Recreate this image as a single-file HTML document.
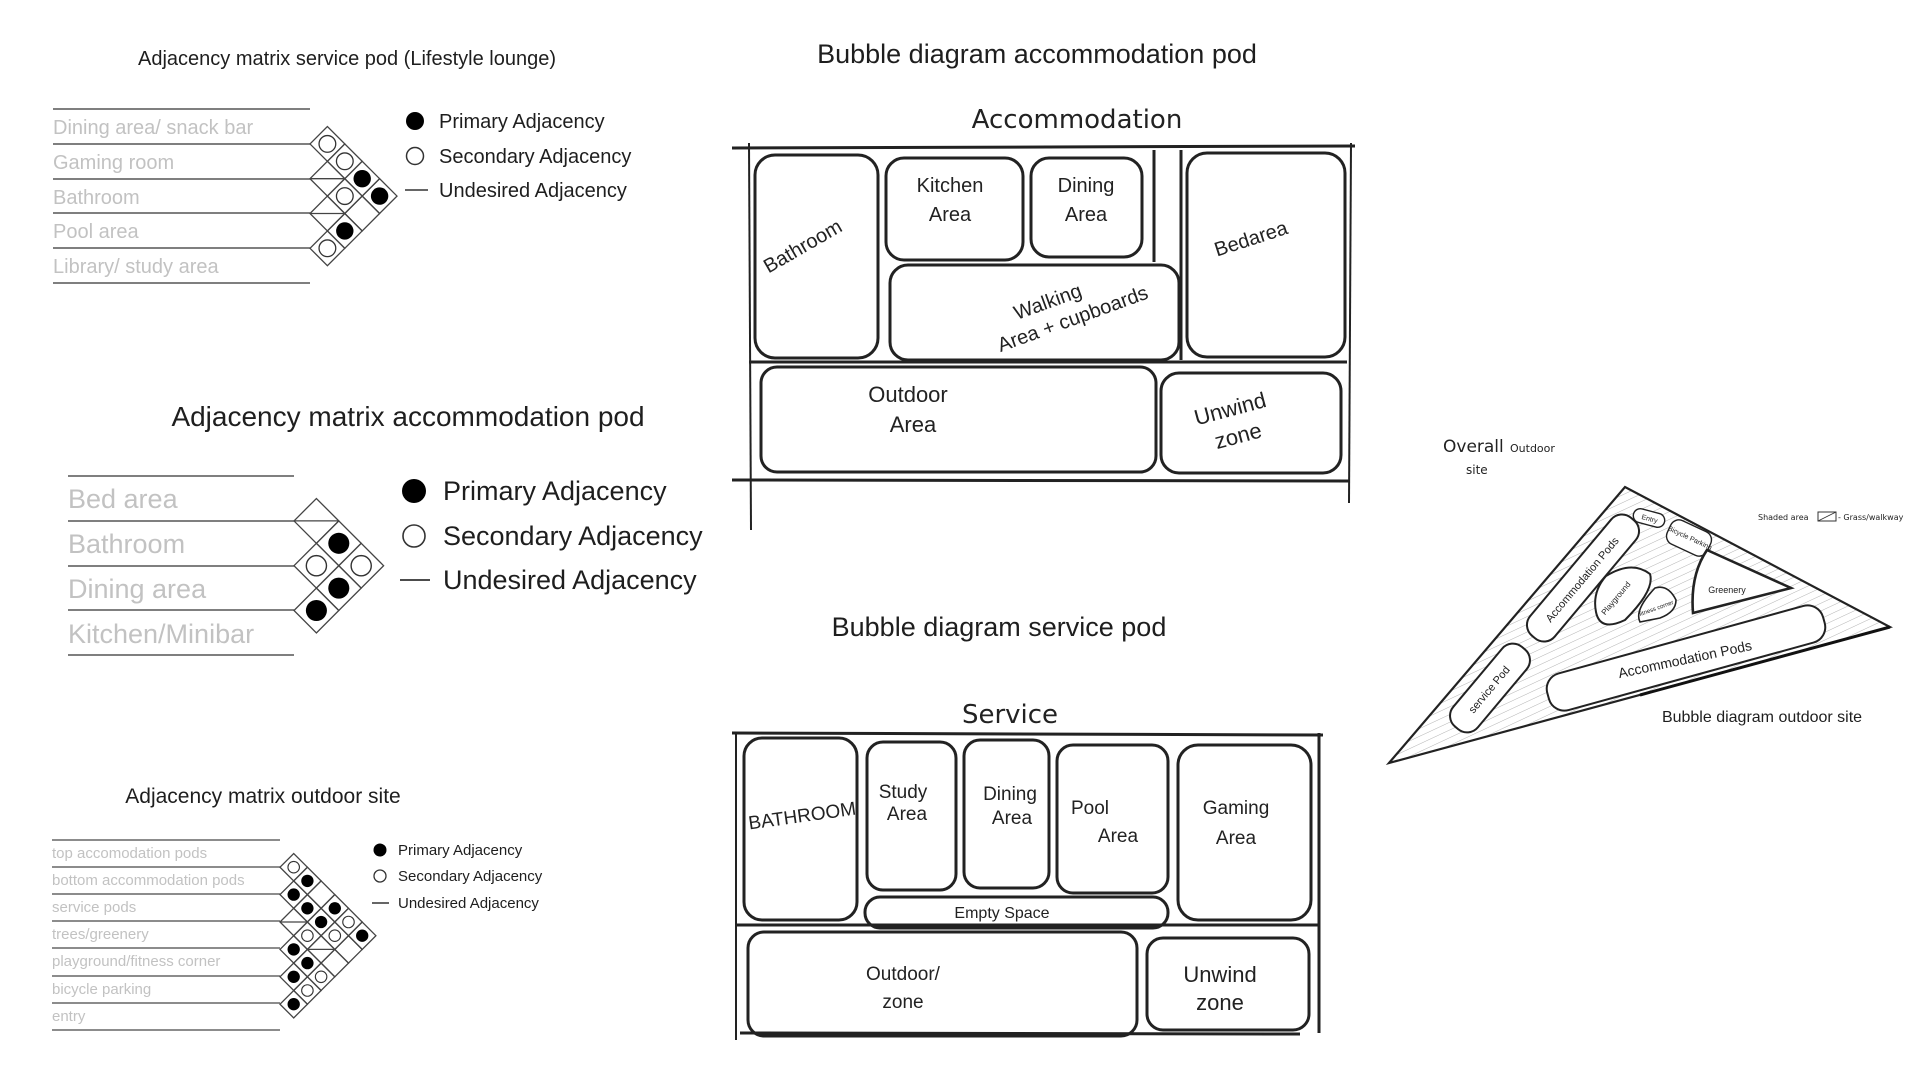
<!DOCTYPE html>
<html><head><meta charset="utf-8"><style>
html,body{margin:0;padding:0;background:#fff;}
svg{display:block;}
text{font-family:"Liberation Sans","DejaVu Sans",sans-serif;}
.lbl{fill:#c2c2c2;}
.t{fill:#1e1e1e;}
.hw{fill:#222;font-family:"DejaVu Sans","Liberation Sans",sans-serif;}
.sk{fill:none;stroke:#222;stroke-width:3;stroke-linejoin:round;}
</style></head><body>
<svg width="1920" height="1080" viewBox="0 0 1920 1080" xmlns="http://www.w3.org/2000/svg">
<defs>
<path id="dm" d="M-1 0L0-1L1 0L0 1Z" fill="none" stroke="#444" stroke-width="1.3" vector-effect="non-scaling-stroke"/>
<pattern id="hatch" width="7" height="7" patternUnits="userSpaceOnUse" patternTransform="rotate(-25)">
<line x1="0" y1="0" x2="7" y2="0" stroke="#aaa" stroke-width="0.9"/>
</pattern>
<clipPath id="tri"><path d="M1389 763 L1625 487 L1890 627 Z"/></clipPath>
</defs>

<!-- Matrix 1 -->
<text class="t" x="347" y="65" font-size="20" text-anchor="middle">Adjacency matrix service pod (Lifestyle lounge)</text>
<g stroke="#555" stroke-width="1.6">
<line x1="53" y1="109" x2="310" y2="109"/><line x1="53" y1="144" x2="310" y2="144"/><line x1="53" y1="179" x2="310" y2="179"/><line x1="53" y1="213" x2="310" y2="213"/><line x1="53" y1="248" x2="310" y2="248"/><line x1="53" y1="283" x2="310" y2="283"/>
</g>
<g class="lbl" font-size="20">
<text x="53" y="134">Dining area/ snack bar</text><text x="53" y="169">Gaming room</text><text x="53" y="204">Bathroom</text><text x="53" y="238">Pool area</text><text x="53" y="273">Library/ study area</text>
</g>
<g transform="translate(310,126.5) scale(17.4)">
<use href="#dm" x="1" y="1"/><use href="#dm" x="1" y="3"/><use href="#dm" x="1" y="5"/><use href="#dm" x="1" y="7"/>
<use href="#dm" x="2" y="2"/><use href="#dm" x="2" y="4"/><use href="#dm" x="2" y="6"/>
<use href="#dm" x="3" y="3"/><use href="#dm" x="3" y="5"/><use href="#dm" x="4" y="4"/>
<g stroke="#444" stroke-width="1.3"><line x1="0" y1="3" x2="2" y2="3" vector-effect="non-scaling-stroke"/><line x1="0" y1="5" x2="2" y2="5" vector-effect="non-scaling-stroke"/></g>
<g fill="#000"><circle cx="3" cy="3" r="0.5"/><circle cx="4" cy="4" r="0.5"/><circle cx="2" cy="6" r="0.5"/></g>
<g fill="#fff" stroke="#333" stroke-width="1.3"><circle cx="1" cy="1" r="0.48" vector-effect="non-scaling-stroke"/><circle cx="2" cy="2" r="0.48" vector-effect="non-scaling-stroke"/><circle cx="2" cy="4" r="0.48" vector-effect="non-scaling-stroke"/><circle cx="1" cy="7" r="0.48" vector-effect="non-scaling-stroke"/></g>
</g>
<circle cx="415" cy="121" r="9" fill="#000"/>
<circle cx="415" cy="156" r="8.5" fill="#fff" stroke="#333" stroke-width="1.5"/>
<line x1="405" y1="190" x2="428" y2="190" stroke="#333" stroke-width="1.6"/>
<g class="t" font-size="20"><text x="439" y="128">Primary Adjacency</text><text x="439" y="163">Secondary Adjacency</text><text x="439" y="197">Undesired Adjacency</text></g>

<!-- Matrix 2 -->
<text class="t" x="408" y="426" font-size="28" text-anchor="middle">Adjacency matrix accommodation pod</text>
<g stroke="#555" stroke-width="1.6">
<line x1="68" y1="476" x2="294" y2="476"/><line x1="68" y1="521" x2="294" y2="521"/><line x1="68" y1="566" x2="294" y2="566"/><line x1="68" y1="610" x2="294" y2="610"/><line x1="68" y1="655" x2="294" y2="655"/>
</g>
<g class="lbl" font-size="27">
<text x="68" y="508">Bed area</text><text x="68" y="553">Bathroom</text><text x="68" y="598">Dining area</text><text x="68" y="643">Kitchen/Minibar</text>
</g>
<g transform="translate(294,498.5) scale(22.4)">
<use href="#dm" x="1" y="1"/><use href="#dm" x="1" y="3"/><use href="#dm" x="1" y="5"/>
<use href="#dm" x="2" y="2"/><use href="#dm" x="2" y="4"/><use href="#dm" x="3" y="3"/>
<line x1="0" y1="1" x2="2" y2="1" stroke="#444" stroke-width="1.3" vector-effect="non-scaling-stroke"/>
<g fill="#000"><circle cx="2" cy="2" r="0.47"/><circle cx="2" cy="4" r="0.47"/><circle cx="1" cy="5" r="0.47"/></g>
<g fill="#fff" stroke="#333"><circle cx="1" cy="3" r="0.45" stroke-width="1.4" vector-effect="non-scaling-stroke"/><circle cx="3" cy="3" r="0.45" stroke-width="1.4" vector-effect="non-scaling-stroke"/></g>
</g>
<circle cx="414" cy="491" r="12" fill="#000"/>
<circle cx="414" cy="536" r="11" fill="#fff" stroke="#333" stroke-width="1.6"/>
<line x1="400" y1="580" x2="430" y2="580" stroke="#333" stroke-width="1.8"/>
<g class="t" font-size="27"><text x="443" y="500">Primary Adjacency</text><text x="443" y="545">Secondary Adjacency</text><text x="443" y="589">Undesired Adjacency</text></g>

<!-- Matrix 3 -->
<text class="t" x="263" y="803" font-size="21" text-anchor="middle">Adjacency matrix outdoor site</text>
<g stroke="#666" stroke-width="1.4">
<line x1="52" y1="840" x2="280" y2="840"/><line x1="52" y1="867" x2="280" y2="867"/><line x1="52" y1="894" x2="280" y2="894"/><line x1="52" y1="921" x2="280" y2="921"/><line x1="52" y1="948" x2="280" y2="948"/><line x1="52" y1="976" x2="280" y2="976"/><line x1="52" y1="1003" x2="280" y2="1003"/><line x1="52" y1="1030" x2="280" y2="1030"/>
</g>
<g class="lbl" font-size="15">
<text x="52" y="858">top accomodation pods</text><text x="52" y="885">bottom accommodation pods</text><text x="52" y="912">service pods</text><text x="52" y="939">trees/greenery</text><text x="52" y="966">playground/fitness corner</text><text x="52" y="994">bicycle parking</text><text x="52" y="1021">entry</text>
</g>
<g transform="translate(280,853.5) scale(13.7)">
<use href="#dm" x="1" y="1"/><use href="#dm" x="1" y="3"/><use href="#dm" x="1" y="5"/><use href="#dm" x="1" y="7"/><use href="#dm" x="1" y="9"/><use href="#dm" x="1" y="11"/>
<use href="#dm" x="2" y="2"/><use href="#dm" x="2" y="4"/><use href="#dm" x="2" y="6"/><use href="#dm" x="2" y="8"/><use href="#dm" x="2" y="10"/>
<use href="#dm" x="3" y="3"/><use href="#dm" x="3" y="5"/><use href="#dm" x="3" y="7"/><use href="#dm" x="3" y="9"/>
<use href="#dm" x="4" y="4"/><use href="#dm" x="4" y="6"/><use href="#dm" x="4" y="8"/>
<use href="#dm" x="5" y="5"/><use href="#dm" x="5" y="7"/><use href="#dm" x="6" y="6"/>
<g stroke="#444" stroke-width="1.2"><line x1="0" y1="5" x2="2" y2="5" vector-effect="non-scaling-stroke"/><line x1="2" y1="7" x2="4" y2="7" vector-effect="non-scaling-stroke"/></g>
<g fill="#000"><circle cx="2" cy="2" r="0.45"/><circle cx="1" cy="3" r="0.45"/><circle cx="2" cy="4" r="0.45"/><circle cx="4" cy="4" r="0.45"/><circle cx="3" cy="5" r="0.45"/><circle cx="6" cy="6" r="0.45"/><circle cx="1" cy="7" r="0.45"/><circle cx="2" cy="8" r="0.45"/><circle cx="1" cy="9" r="0.45"/><circle cx="1" cy="11" r="0.45"/></g>
<g fill="#fff" stroke="#333"><circle cx="1" cy="1" r="0.42" stroke-width="1.1" vector-effect="non-scaling-stroke"/><circle cx="5" cy="5" r="0.42" stroke-width="1.1" vector-effect="non-scaling-stroke"/><circle cx="2" cy="6" r="0.42" stroke-width="1.1" vector-effect="non-scaling-stroke"/><circle cx="4" cy="6" r="0.42" stroke-width="1.1" vector-effect="non-scaling-stroke"/><circle cx="3" cy="9" r="0.42" stroke-width="1.1" vector-effect="non-scaling-stroke"/><circle cx="2" cy="10" r="0.42" stroke-width="1.1" vector-effect="non-scaling-stroke"/></g>
</g>
<circle cx="380" cy="850" r="6.5" fill="#000"/>
<circle cx="380" cy="876" r="6" fill="#fff" stroke="#333" stroke-width="1.3"/>
<line x1="372" y1="903" x2="389" y2="903" stroke="#333" stroke-width="1.5"/>
<g class="t" font-size="15"><text x="398" y="855">Primary Adjacency</text><text x="398" y="881">Secondary Adjacency</text><text x="398" y="908">Undesired Adjacency</text></g>

<!-- Titles -->
<text class="t" x="1037" y="63" font-size="27" text-anchor="middle">Bubble diagram accommodation pod</text>
<text class="t" x="999" y="636" font-size="27" text-anchor="middle">Bubble diagram service pod</text>
<text class="t" x="1762" y="722" font-size="16" text-anchor="middle">Bubble diagram outdoor site</text>

<!-- Accommodation sketch -->
<text class="hw" x="1077" y="128" font-size="26" text-anchor="middle">Accommodation</text>
<g class="sk">
<line x1="732" y1="148" x2="1355" y2="146"/>
<line x1="749" y1="143" x2="751" y2="530" stroke-width="2"/>
<line x1="732" y1="480" x2="1349" y2="481"/>
<line x1="1351" y1="143" x2="1349" y2="503" stroke-width="2"/>
<line x1="749" y1="362" x2="1347" y2="362"/>
<rect x="755" y="155" width="123" height="203" rx="20"/>
<rect x="886" y="158" width="137" height="102" rx="18"/>
<rect x="1031" y="158" width="111" height="99" rx="18"/>
<rect x="890" y="265" width="289" height="95" rx="18"/>
<line x1="1154" y1="150" x2="1154" y2="262"/>
<line x1="1181" y1="150" x2="1181" y2="360"/>
<rect x="1187" y="153" width="158" height="204" rx="20"/>
<rect x="761" y="367" width="395" height="105" rx="16"/>
<rect x="1161" y="373" width="180" height="100" rx="18"/>
</g>
<g class="hw" font-size="20">
<text transform="translate(806,252) rotate(-30)" text-anchor="middle">Bathroom</text>
<text x="950" y="192" text-anchor="middle">Kitchen</text><text x="950" y="221" text-anchor="middle">Area</text>
<text x="1086" y="192" text-anchor="middle">Dining</text><text x="1086" y="221" text-anchor="middle">Area</text>
<text transform="translate(1253,245) rotate(-18)" text-anchor="middle">Bedarea</text>
<text transform="translate(1050,308) rotate(-20)" text-anchor="middle">Walking</text>
<text transform="translate(1075,325) rotate(-20)" text-anchor="middle">Area + cupboards</text>
<text x="908" y="402" text-anchor="middle" font-size="22">Outdoor</text><text x="913" y="432" text-anchor="middle" font-size="22">Area</text>
<text transform="translate(1232,416) rotate(-15)" text-anchor="middle" font-size="22">Unwind</text>
<text transform="translate(1240,443) rotate(-15)" text-anchor="middle" font-size="22">zone</text>
</g>

<!-- Service sketch -->
<text class="hw" x="1010" y="723" font-size="26" text-anchor="middle">Service</text>
<g class="sk">
<line x1="732" y1="733" x2="1323" y2="735"/>
<line x1="736" y1="733" x2="736" y2="1040" stroke-width="2"/>
<line x1="1319" y1="733" x2="1319" y2="1033"/>
<line x1="736" y1="925" x2="1319" y2="925"/>
<line x1="740" y1="1033" x2="1300" y2="1034"/>
<rect x="744" y="738" width="113" height="182" rx="18"/>
<rect x="867" y="742" width="89" height="148" rx="16"/>
<rect x="964" y="740" width="85" height="148" rx="16"/>
<rect x="1057" y="745" width="111" height="148" rx="16"/>
<rect x="1178" y="745" width="133" height="175" rx="20"/>
<rect x="865" y="897" width="303" height="31" rx="15"/>
<rect x="748" y="932" width="389" height="104" rx="16"/>
<rect x="1147" y="938" width="162" height="92" rx="16"/>
</g>
<g class="hw" font-size="19">
<text transform="translate(803,822) rotate(-8)" text-anchor="middle">BATHROOM</text>
<text x="903" y="798" text-anchor="middle">Study</text><text x="907" y="820" text-anchor="middle">Area</text>
<text x="1010" y="800" text-anchor="middle">Dining</text><text x="1012" y="824" text-anchor="middle">Area</text>
<text x="1090" y="814" text-anchor="middle">Pool</text><text x="1118" y="842" text-anchor="middle">Area</text>
<text x="1236" y="814" text-anchor="middle">Gaming</text><text x="1236" y="844" text-anchor="middle">Area</text>
<text x="1002" y="918" text-anchor="middle" font-size="16">Empty Space</text>
<text x="903" y="980" text-anchor="middle">Outdoor/</text><text x="903" y="1008" text-anchor="middle">zone</text>
<text x="1220" y="982" text-anchor="middle" font-size="22">Unwind</text><text x="1220" y="1010" text-anchor="middle" font-size="22">zone</text>
</g>

<!-- Outdoor site sketch -->
<text class="hw" x="1443" y="452" font-size="17">Overall</text><text class="hw" x="1510" y="452" font-size="11">Outdoor</text>
<text class="hw" x="1466" y="474" font-size="12">site</text>
<text class="hw" x="1758" y="520" font-size="8">Shaded area</text>
<rect x="1818" y="512" width="18" height="9" fill="none" stroke="#333" stroke-width="1"/>
<line x1="1818" y1="521" x2="1836" y2="512" stroke="#333" stroke-width="0.8"/>
<text class="hw" x="1838" y="520" font-size="8">- Grass/walkway</text>
<rect x="1389" y="487" width="501" height="276" fill="url(#hatch)" clip-path="url(#tri)"/>
<path d="M1389 763 L1625 487 L1890 627 Z" fill="none" stroke="#222" stroke-width="2.2"/>
<path d="M1640 695 L1890 627" stroke="#111" stroke-width="3" fill="none"/>
<g fill="#fff" stroke="#222" stroke-width="2">
<rect x="-77" y="-16" width="154" height="32" rx="14" transform="translate(1583,578) rotate(-50)"/>
<rect x="-52" y="-16" width="104" height="32" rx="14" transform="translate(1490,688) rotate(-50)"/>
<rect x="-143" y="-19" width="286" height="38" rx="16" transform="translate(1686,658) rotate(-15.4)"/>
<rect x="-16" y="-7" width="32" height="14" rx="7" transform="translate(1649,518) rotate(15)" stroke-width="1.4"/>
<rect x="-22" y="-13" width="44" height="26" rx="9" transform="translate(1689,538) rotate(25)" stroke-width="1.4"/>
<path d="M1606 576 Q1632 560 1650 574 Q1655 590 1625 620 Q1600 632 1596 612 Q1592 592 1606 576 Z"/>
<path d="M1655 588 Q1668 584 1676 600 Q1676 612 1660 618 L1640 622 Q1634 610 1655 588 Z" stroke-width="1.6"/>
<path d="M1707 550 L1791 588 L1693 613 Q1690 575 1707 550 Z" stroke-width="2.6"/>
</g>
<g class="hw" font-size="10">
<text transform="translate(1585,582) rotate(-50)" text-anchor="middle" font-size="11">Accommodation Pods</text>
<text transform="translate(1492,692) rotate(-50)" text-anchor="middle" font-size="11">service Pod</text>
<text transform="translate(1686,664) rotate(-12)" text-anchor="middle" font-size="14">Accommodation Pods</text>
<text transform="translate(1649,521) rotate(15)" text-anchor="middle" font-size="7">Entry</text>
<text transform="translate(1689,540) rotate(25)" text-anchor="middle" font-size="7">Bicycle Parking</text>
<text transform="translate(1618,600) rotate(-50)" text-anchor="middle" font-size="8">Playground</text>
<text transform="translate(1657,610) rotate(-20)" text-anchor="middle" font-size="6">fitness corner</text>
<text x="1727" y="593" text-anchor="middle" font-size="9">Greenery</text>
</g>
</svg>
</body></html>
